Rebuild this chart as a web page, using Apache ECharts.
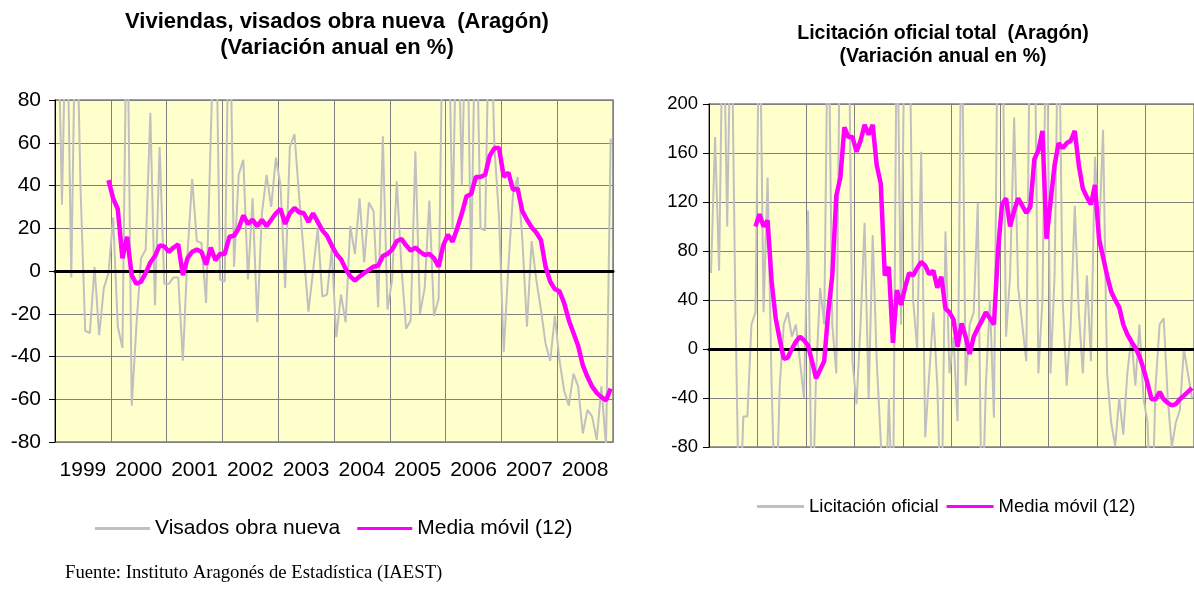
<!DOCTYPE html>
<html>
<head>
<meta charset="utf-8">
<script src="https://cdn.jsdelivr.net/npm/echarts/dist/echarts.min.js"></script>
<style>
  body { margin: 0; background: #fff; }
  #main { width: 1194px; height: 592px; }
</style>
</head>
<body>
<div id="main"></div>
<script>
// años (una categoría por año, 12 meses cada una)
var years = ['1999', '2000', '2001', '2002', '2003', '2004', '2005', '2006', '2007', '2008'];
var yTicksLeft = [-80, 80, 20];
var yTicksRight = [-80, 200, 40];

// Visados obra nueva, variación anual mensual (ene 1999 - dic 2008)
var visados = [
  140, 31, 140, -3, 140, 38, -28, -29, 2, -30, -8, -1,
  25, -26, -36, 140, -63, -26, 6, 10, 74, -16, 58, -6,
  -6, -3, -3, -42, 8, 43, 14, 13, -15, 63, 140, -4,
  -5, 140, 2, 45, 52, -4, 34, -24, 27, 45, 30, 53,
  40, -8, 58, 64, 35, 8, -19, 0, 20, -12, -11, 10,
  -31, -11, -24, 21, 8, 34, 4, 32, 28, -17, 63, -18,
  -4, 42, 2, -27, -23, 56, -20, -8, 33, -21, -13, 140,
  140, 20, 140, 40, 140, 0, 140, 20, 19, 140, 58, 25,
  -38, 2, 36, 44, 15, -26, 14, -4, -18, -34, -42, -21,
  -42, -56, -63, -48, -54, -76, -65, -68, -79, -54, -82, 62
];
// Media móvil (12) de visados
var visadosMedia = [
  null, null, null, null, null, null, null, null, null, null, null, 42.5,
  34, 29, 6, 16, -2, -6, -5, -1, 4, 7, 12, 11.5,
  9, 11, 12.5, -2, 6, 9, 10, 9, 3, 11, 5, 8,
  8, 16, 16.5, 20, 26, 22, 24, 21, 24, 21, 24, 27,
  29, 22, 27, 29.5, 27.5, 27, 23, 27, 23, 19, 16.5, 12,
  8, 5.5, 1, -2.5, -4.5, -2.5, -1, 0.5, 2, 2.5, 7, 8,
  10, 14, 15, 12, 9.5, 11, 9, 7.5, 8, 6, 2, 12,
  17, 13.7, 20, 27, 35, 36, 44, 44, 45, 54, 57.5, 57.5,
  44, 46, 38, 38.5, 28, 24, 20.5, 18, 14.5, 2, -5, -8.5,
  -9.5, -15, -23, -29, -35, -44, -49.5, -54, -57, -59, -60.5, -55
];

// Licitación oficial total, variación anual mensual
var licitacion = [
  62, 173, 64, 300, 100, 300, 40, -150, -55, -55, 20, 30,
  300, 30, 140, -30, -150, -30, 20, 30, 10, 20, -10, -40,
  113, -150, -20, 50, 20, 300, 20, -20, 300, 300, 300, -10,
  -45, 20, 103, -40, 93, -10, -75, -150, -40, -150, 300, 20,
  300, 300, 40, 0, 161, -72, -20, 30, -30, -150, 96, -20,
  10, -59, 300, -30, 20, 30, 119, -150, -30, 40, -56, 300,
  300, 10, 60, 189, 50, 20, -10, 300, 300, -20, 40, 300,
  -20, 60, 300, 40, -30, 20, 117, 30, -20, 60, -10, 157,
  90, 179, -20, -60, -79, -40, -70, -20, 10, -30, 20, -40,
  -60, -150, -30, 20, 25, -40, -80, -60, -50, 0, -20, -40
];
// Media móvil (12) de licitación
var licitacionMedia = [
  null, null, null, null, null, null, null, null, null, null, null, 100,
  110, 100, 105, 55, 25, 8, -8, -7, 0, 6, 10, 7,
  3, -10, -24, -17, -10, 30, 60, 125, 140, 181, 173, 173,
  161, 170, 183, 175, 183, 150, 135, 60, 67, 5, 48, 36,
  50, 62, 60, 66, 71, 68, 61, 64, 50, 59, 33, 30,
  24, 2, 21, 10, -4, 10, 17, 23, 30, 25, 20, 80,
  118, 123, 100, 113, 123, 117, 111, 116, 155, 162, 178, 90,
  120, 150, 168, 164, 168, 170, 178, 150, 131, 124, 118, 134,
  90, 75, 60, 47, 40, 34, 20, 12, 6, 1, -6, -16,
  -28, -41, -41, -35, -41, -44, -46, -45, -41, -38, -35, -32
];

var FONT = '"Liberation Sans", Arial, sans-serif';
var GRIS = '#C0C0C0';
var MAGENTA = '#FF00FF';

// cada mes en el centro de su celda
function puntos(arr) {
  var out = [];
  for (var i = 0; i < arr.length; i++) {
    if (arr[i] !== null) out.push([i + 0.5, arr[i]]);
  }
  return out;
}

function ejeMeses(grid) {
  return {
    gridIndex: grid, type: 'value', min: 0, max: 120, interval: 12,
    position: 'top', z: 3,
    axisLine: { show: true, onZero: true, lineStyle: { color: '#000', width: 3 } },
    axisTick: { show: false }, axisLabel: { show: false }, splitLine: { show: false }
  };
}
function ejeAnios(grid, showLabels, size) {
  return {
    gridIndex: grid, type: 'category', data: years, boundaryGap: true, position: 'bottom',
    axisLine: { show: false, onZero: false }, axisTick: { show: false },
    axisLabel: { show: showLabels, interval: 0, color: '#000', fontSize: size, fontFamily: FONT, margin: 18 },
    splitLine: { show: true, interval: 0, lineStyle: { color: '#808080', width: 1 } }
  };
}
function ejeY(grid, t, size, margin) {
  return {
    gridIndex: grid, type: 'value', min: t[0], max: t[1], interval: t[2],
    axisLine: { show: true, onZero: false, lineStyle: { color: '#000', width: 1 } },
    axisTick: { show: true, length: 6, lineStyle: { color: '#000' } },
    axisLabel: { color: '#000', fontSize: size, fontFamily: FONT, margin: margin },
    splitLine: { show: true, lineStyle: { color: '#808080', width: 1 } }
  };
}

var chart = echarts.init(document.getElementById('main'));
chart.setOption({
  animation: false,
  backgroundColor: '#fff',
  grid: [
    { left: 55, top: 100, width: 558, height: 342, show: true, backgroundColor: '#FFFFCC', borderColor: '#808080', borderWidth: 1.5 },
    { left: 709, top: 104, width: 492, height: 343, show: true, backgroundColor: '#FFFFCC', borderColor: '#808080', borderWidth: 1.5 }
  ],
  xAxis: [ejeMeses(0), ejeAnios(0, true, 21), ejeMeses(1), ejeAnios(1, false, 18)],
  yAxis: [ejeY(0, yTicksLeft, 21, 14), ejeY(1, yTicksRight, 18.5, 11)],
  legend: [
    {
      data: [
        { name: 'Visados obra nueva', icon: 'rect', itemStyle: { color: GRIS } },
        { name: 'Media móvil (12)', icon: 'rect', itemStyle: { color: MAGENTA } }
      ],
      left: 95, top: 518, padding: 0, itemWidth: 55, itemHeight: 3, itemGap: 17,
      textStyle: { fontSize: 21, fontFamily: FONT, color: '#000' }
    },
    {
      data: [
        { name: 'Licitación oficial', icon: 'rect', itemStyle: { color: GRIS } },
        { name: 'Media móvil (12)', icon: 'rect', itemStyle: { color: MAGENTA } }
      ],
      left: 757, top: 497, padding: 0, itemWidth: 47, itemHeight: 3, itemGap: 8,
      textStyle: { fontSize: 18.5, fontFamily: FONT, color: '#000' }
    }
  ],
  graphic: [
    { type: 'text', x: 337, y: 9, style: { text: 'Viviendas, visados obra nueva  (Aragón)\n(Variación anual en %)', align: 'center', verticalAlign: 'top', fontSize: 22, fontWeight: 'bold', fontFamily: FONT, lineHeight: 26, fill: '#000' } },
    { type: 'text', x: 943, y: 22, style: { text: 'Licitación oficial total  (Aragón)\n(Variación anual en %)', align: 'center', verticalAlign: 'top', fontSize: 19.5, fontWeight: 'bold', fontFamily: FONT, lineHeight: 23, fill: '#000' } },
    { type: 'text', x: 65, y: 564, style: { text: 'Fuente: Instituto Aragonés de Estadística (IAEST)', fontSize: 18.7, fontFamily: '"Liberation Serif", "Times New Roman", serif', fill: '#000' } }
  ],
  series: [
    {
      name: 'Visados obra nueva', type: 'line', xAxisIndex: 0, yAxisIndex: 0,
      data: puntos(visados), symbol: 'none', clip: true, z: 2, color: GRIS,
      lineStyle: { color: GRIS, width: 2 }
    },
    {
      name: 'Media móvil (12)', type: 'line', xAxisIndex: 0, yAxisIndex: 0,
      data: puntos(visadosMedia), symbol: 'none', clip: true, z: 4, color: MAGENTA,
      lineStyle: { color: MAGENTA, width: 4.5 }
    },
    {
      name: 'Licitación oficial', type: 'line', xAxisIndex: 2, yAxisIndex: 1,
      data: puntos(licitacion), symbol: 'none', clip: true, z: 2, color: GRIS,
      lineStyle: { color: GRIS, width: 2 }
    },
    {
      name: 'Media móvil (12)', type: 'line', xAxisIndex: 2, yAxisIndex: 1,
      data: puntos(licitacionMedia), symbol: 'none', clip: true, z: 4, color: MAGENTA,
      lineStyle: { color: MAGENTA, width: 4.5 }
    }
  ]
});
</script>
</body>
</html>
